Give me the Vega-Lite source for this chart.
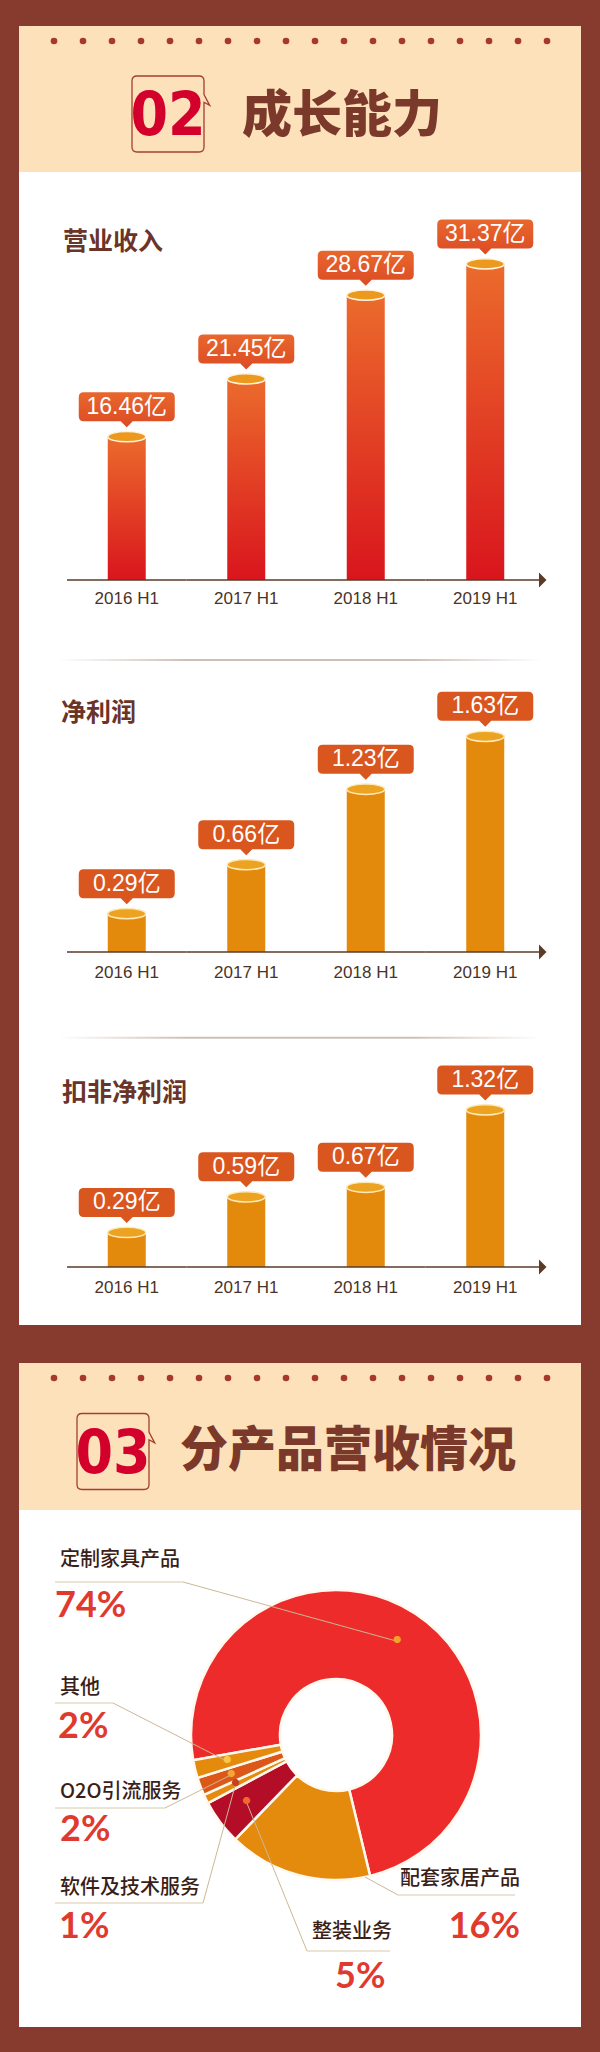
{
  "$schema": "https://vega.github.io/schema/vega-lite/v6.json",
  "background": "#873a2e",
  "padding": {"left": 19, "right": 19, "top": 26, "bottom": 25},
  "config": {"view": {"stroke": null}, "concat": {"spacing": 0}, "font": "Noto Sans CJK SC"},
  "datasets": {
    "dots": [{"i": 1}, {"i": 2}, {"i": 3}, {"i": 4}, {"i": 5}, {"i": 6}, {"i": 7}, {"i": 8}, {"i": 9}, {"i": 10}, {"i": 11}, {"i": 12}, {"i": 13}, {"i": 14}, {"i": 15}, {"i": 16}, {"i": 17}, {"i": 18}],
    "head1": [{"part": "num", "label": "02"}, {"part": "title", "label": "成长能力"}],
    "head2": [{"part": "num", "label": "03"}, {"part": "title", "label": "分产品营收情况"}],
    "revenue": [
      {"period": "2016 H1", "value": 16.46, "label": "16.46亿"},
      {"period": "2017 H1", "value": 21.45, "label": "21.45亿"},
      {"period": "2018 H1", "value": 28.67, "label": "28.67亿"},
      {"period": "2019 H1", "value": 31.37, "label": "31.37亿"}
    ],
    "netprofit": [
      {"period": "2016 H1", "value": 0.29, "label": "0.29亿"},
      {"period": "2017 H1", "value": 0.66, "label": "0.66亿"},
      {"period": "2018 H1", "value": 1.23, "label": "1.23亿"},
      {"period": "2019 H1", "value": 1.63, "label": "1.63亿"}
    ],
    "adjprofit": [
      {"period": "2016 H1", "value": 0.29, "label": "0.29亿"},
      {"period": "2017 H1", "value": 0.59, "label": "0.59亿"},
      {"period": "2018 H1", "value": 0.67, "label": "0.67亿"},
      {"period": "2019 H1", "value": 1.32, "label": "1.32亿"}
    ],
    "products": [
      {"idx": 1, "category": "定制家具产品", "share": 0.74},
      {"idx": 2, "category": "配套家居产品", "share": 0.16},
      {"idx": 3, "category": "整装业务", "share": 0.05},
      {"idx": 4, "category": "软件及技术服务", "share": 0.01},
      {"idx": 5, "category": "O2O引流服务", "share": 0.02},
      {"idx": 6, "category": "其他", "share": 0.02}
    ]
  },
  "spacing": 38,
  "vconcat": [
    {
      "spacing": 0,
      "vconcat": [
        {
          "width": 562, "height": 30,
          "view": {"fill": "#fde1ba", "stroke": null},
          "data": {"name": "dots"},
          "mark": {"type": "circle", "size": 44, "color": "#a5392a", "opacity": 1},
          "encoding": {"x": {"field": "i", "type": "quantitative", "scale": {"domain": [1, 18], "range": [35, 528], "nice": false, "zero": false}, "axis": null}}
        },
        {
          "width": 562, "height": 116,
          "view": {"fill": "#fde1ba", "stroke": null},
          "data": {"name": "head1"},
          "layer": [
            {
              "transform": [{"filter": "datum.part === 'num'"}],
              "mark": {"type": "point", "shape": "M-0.795,-0.974 L0.795,-0.974 Q0.923,-0.974 0.923,-0.846 L0.923,-0.5 L1.07,-0.22 L0.923,-0.3 L0.923,0.846 Q0.923,0.974 0.795,0.974 L-0.795,0.974 Q-0.923,0.974 -0.923,0.846 L-0.923,-0.846 Q-0.923,-0.974 -0.795,-0.974 Z", "size": 6084, "filled": false, "stroke": "#a3402e", "strokeWidth": 1.3, "opacity": 1},
              "encoding": {"x": {"field": "part", "type": "nominal", "scale": {"type": "point", "domain": ["num", "title"], "range": [149, 223], "padding": 0}, "axis": null}}
            },
            {
              "transform": [{"filter": "datum.part === 'num'"}],
              "mark": {"type": "text", "fontSize": 60, "fontWeight": "bold", "font": "Liberation Sans Narrow, DejaVu Sans Condensed, Liberation Sans", "color": "#d2002a", "baseline": "middle", "dy": 3},
              "encoding": {"x": {"field": "part", "type": "nominal", "axis": null}, "text": {"field": "label"}}
            },
            {
              "transform": [{"filter": "datum.part === 'title'"}],
              "mark": {"type": "text", "align": "left", "baseline": "middle", "fontSize": 50, "fontWeight": 900, "font": "Noto Sans CJK SC", "color": "#7a392a", "dy": 3},
              "encoding": {"x": {"field": "part", "type": "nominal", "axis": null}, "text": {"field": "label"}}
            }
          ]
        },
        {
          "width": 562, "height": 486,
          "view": {"fill": "#ffffff", "stroke": null},
          "title": {"text": "营业收入", "anchor": "start", "frame": "group", "orient": "top", "offset": -95, "dx": 44, "baseline": "middle", "fontSize": 25, "fontWeight": "bold", "color": "#6a3428", "font": "Noto Sans CJK SC"},
          "data": {"name": "revenue"},
          "layer": [
            {
              "mark": {"type": "bar", "width": 38, "fill": {"gradient": "linear", "x1": 0, "y1": 0, "x2": 0, "y2": 1, "stops": [{"offset": 0, "color": "#eb6b2c"}, {"offset": 1, "color": "#d9151d"}]}},
              "encoding": {
                "x": {"field": "period", "type": "nominal", "scale": {"type": "band", "range": [48, 526], "paddingInner": 0, "paddingOuter": 0}, "axis": null},
                "y": {"field": "value", "type": "quantitative", "scale": {"domain": [4.1, 39.3], "range": [408, 0], "nice": false, "zero": false}, "axis": null},
                "y2": {"datum": 4.1}
              }
            },
            {
              "mark": {"type": "bar", "width": {"band": 1}, "fill": "#5b3a27"},
              "encoding": {"x": {"field": "period", "type": "nominal", "axis": null}, "y": {"datum": 4.165, "axis": null}, "y2": {"datum": 4.035}}
            },
            {
              "mark": {"type": "text", "dy": 19, "baseline": "middle", "fontSize": 17, "font": "Liberation Sans", "color": "#4b3327"},
              "encoding": {"x": {"field": "period", "type": "nominal", "axis": null}, "y": {"datum": 4.1, "axis": null}, "text": {"field": "period"}}
            },
            {
              "mark": {"type": "point", "shape": "M-1,0 A1,0.27 0 1,1 1,0 A1,0.27 0 1,1 -1,0 Z", "size": 1444, "filled": true, "fill": "#ec9a1f", "stroke": "#fff3dc", "strokeWidth": 1.5, "opacity": 1},
              "encoding": {"x": {"field": "period", "type": "nominal", "axis": null}, "y": {"field": "value", "type": "quantitative", "axis": null}}
            },
            {
              "mark": {"type": "point", "shape": "M-0.896,-0.927 L0.896,-0.927 Q1,-0.927 1,-0.823 L1,-0.427 Q1,-0.323 0.896,-0.323 L0.125,-0.323 L0,-0.198 L-0.125,-0.323 L-0.896,-0.323 Q-1,-0.323 -1,-0.427 L-1,-0.823 Q-1,-0.927 -0.896,-0.927 Z", "size": 9216, "filled": true, "fill": {"gradient": "linear", "x1": 0, "y1": 0, "x2": 0, "y2": 1, "stops": [{"offset": 0, "color": "#e8672d"}, {"offset": 1, "color": "#dc4b24"}]}, "strokeWidth": 0, "opacity": 1},
              "encoding": {"x": {"field": "period", "type": "nominal", "axis": null}, "y": {"field": "value", "type": "quantitative", "axis": null}}
            },
            {
              "mark": {"type": "text", "dy": -30, "fontSize": 23, "color": "#ffffff", "font": "Liberation Sans, Noto Sans CJK SC", "baseline": "middle"},
              "encoding": {"x": {"field": "period", "type": "nominal", "axis": null}, "y": {"field": "value", "type": "quantitative", "axis": null}, "text": {"field": "label"}}
            },
            {
              "data": {"values": [{}]},
              "mark": {"type": "point", "shape": "M-0.8,-1 L0.2,0 L-0.8,1 Z", "size": 225, "filled": true, "color": "#5b3a27", "opacity": 1},
              "encoding": {"x": {"datum": "2019 H1", "bandPosition": 1, "axis": null}, "y": {"datum": 4.1, "axis": null}}
            }
          ]
        },
        {
          "width": 562, "height": 378,
          "view": {"fill": "#ffffff", "stroke": null},
          "title": {"text": "净利润", "anchor": "start", "frame": "group", "orient": "top", "offset": -80, "dx": 42, "baseline": "middle", "fontSize": 25, "fontWeight": "bold", "color": "#6a3428", "font": "Noto Sans CJK SC"},
          "data": {"name": "netprofit"},
          "layer": [
            {
              "mark": {"type": "bar", "width": 38, "fill": "#e38a0d"},
              "encoding": {
                "x": {"field": "period", "type": "nominal", "scale": {"type": "band", "range": [48, 526], "paddingInner": 0, "paddingOuter": 0}, "axis": null},
                "y": {"field": "value", "type": "quantitative", "scale": {"domain": [0, 2.222], "range": [294, 0], "nice": false, "zero": false}, "axis": null},
                "y2": {"datum": 0}
              }
            },
            {
              "mark": {"type": "bar", "width": {"band": 1}, "fill": "#5b3a27"},
              "encoding": {"x": {"field": "period", "type": "nominal", "axis": null}, "y": {"datum": 0.0057, "axis": null}, "y2": {"datum": -0.0057}}
            },
            {
              "mark": {"type": "text", "dy": 21, "baseline": "middle", "fontSize": 17, "font": "Liberation Sans", "color": "#4b3327"},
              "encoding": {"x": {"field": "period", "type": "nominal", "axis": null}, "y": {"datum": 0, "axis": null}, "text": {"field": "period"}}
            },
            {
              "data": {"values": [{}]},
              "mark": {"type": "rect", "fill": {"gradient": "linear", "x1": 0, "y1": 0, "x2": 1, "y2": 0, "stops": [{"offset": 0, "color": "#ffffff"}, {"offset": 0.07, "color": "#ffffff"}, {"offset": 0.3, "color": "#cdbfb6"}, {"offset": 0.7, "color": "#cdbfb6"}, {"offset": 0.93, "color": "#ffffff"}, {"offset": 1, "color": "#ffffff"}]}},
              "encoding": {"y": {"datum": 2.215, "axis": null}, "y2": {"datum": 2.2}}
            },
            {
              "mark": {"type": "point", "shape": "M-1,0 A1,0.27 0 1,1 1,0 A1,0.27 0 1,1 -1,0 Z", "size": 1444, "filled": true, "fill": "#eca322", "stroke": "#fde9b8", "strokeWidth": 1.5, "opacity": 1},
              "encoding": {"x": {"field": "period", "type": "nominal", "axis": null}, "y": {"field": "value", "type": "quantitative", "axis": null}}
            },
            {
              "mark": {"type": "point", "shape": "M-0.896,-0.927 L0.896,-0.927 Q1,-0.927 1,-0.823 L1,-0.427 Q1,-0.323 0.896,-0.323 L0.125,-0.323 L0,-0.198 L-0.125,-0.323 L-0.896,-0.323 Q-1,-0.323 -1,-0.427 L-1,-0.823 Q-1,-0.927 -0.896,-0.927 Z", "size": 9216, "filled": true, "fill": "#d9561f", "strokeWidth": 0, "opacity": 1},
              "encoding": {"x": {"field": "period", "type": "nominal", "axis": null}, "y": {"field": "value", "type": "quantitative", "axis": null}}
            },
            {
              "mark": {"type": "text", "dy": -30, "fontSize": 23, "color": "#ffffff", "font": "Liberation Sans, Noto Sans CJK SC", "baseline": "middle"},
              "encoding": {"x": {"field": "period", "type": "nominal", "axis": null}, "y": {"field": "value", "type": "quantitative", "axis": null}, "text": {"field": "label"}}
            },
            {
              "data": {"values": [{}]},
              "mark": {"type": "point", "shape": "M-0.8,-1 L0.2,0 L-0.8,1 Z", "size": 225, "filled": true, "color": "#5b3a27", "opacity": 1},
              "encoding": {"x": {"datum": "2019 H1", "bandPosition": 1, "axis": null}, "y": {"datum": 0, "axis": null}}
            }
          ]
        },
        {
          "width": 562, "height": 289,
          "view": {"fill": "#ffffff", "stroke": null},
          "title": {"text": "扣非净利润", "anchor": "start", "frame": "group", "orient": "top", "offset": -82, "dx": 43, "baseline": "middle", "fontSize": 25, "fontWeight": "bold", "color": "#6a3428", "font": "Noto Sans CJK SC"},
          "data": {"name": "adjprofit"},
          "layer": [
            {
              "mark": {"type": "bar", "width": 38, "fill": "#e38a0d"},
              "encoding": {
                "x": {"field": "period", "type": "nominal", "scale": {"type": "band", "range": [48, 526], "paddingInner": 0, "paddingOuter": 0}, "axis": null},
                "y": {"field": "value", "type": "quantitative", "scale": {"domain": [0, 1.941], "range": [231, 0], "nice": false, "zero": false}, "axis": null},
                "y2": {"datum": 0}
              }
            },
            {
              "mark": {"type": "bar", "width": {"band": 1}, "fill": "#5b3a27"},
              "encoding": {"x": {"field": "period", "type": "nominal", "axis": null}, "y": {"datum": 0.0063, "axis": null}, "y2": {"datum": -0.0063}}
            },
            {
              "mark": {"type": "text", "dy": 21, "baseline": "middle", "fontSize": 17, "font": "Liberation Sans", "color": "#4b3327"},
              "encoding": {"x": {"field": "period", "type": "nominal", "axis": null}, "y": {"datum": 0, "axis": null}, "text": {"field": "period"}}
            },
            {
              "data": {"values": [{}]},
              "mark": {"type": "rect", "fill": {"gradient": "linear", "x1": 0, "y1": 0, "x2": 1, "y2": 0, "stops": [{"offset": 0, "color": "#ffffff"}, {"offset": 0.07, "color": "#ffffff"}, {"offset": 0.3, "color": "#cdbfb6"}, {"offset": 0.7, "color": "#cdbfb6"}, {"offset": 0.93, "color": "#ffffff"}, {"offset": 1, "color": "#ffffff"}]}},
              "encoding": {"y": {"datum": 1.934, "axis": null}, "y2": {"datum": 1.918}}
            },
            {
              "mark": {"type": "point", "shape": "M-1,0 A1,0.27 0 1,1 1,0 A1,0.27 0 1,1 -1,0 Z", "size": 1444, "filled": true, "fill": "#eca322", "stroke": "#fde9b8", "strokeWidth": 1.5, "opacity": 1},
              "encoding": {"x": {"field": "period", "type": "nominal", "axis": null}, "y": {"field": "value", "type": "quantitative", "axis": null}}
            },
            {
              "mark": {"type": "point", "shape": "M-0.896,-0.927 L0.896,-0.927 Q1,-0.927 1,-0.823 L1,-0.427 Q1,-0.323 0.896,-0.323 L0.125,-0.323 L0,-0.198 L-0.125,-0.323 L-0.896,-0.323 Q-1,-0.323 -1,-0.427 L-1,-0.823 Q-1,-0.927 -0.896,-0.927 Z", "size": 9216, "filled": true, "fill": "#d9561f", "strokeWidth": 0, "opacity": 1},
              "encoding": {"x": {"field": "period", "type": "nominal", "axis": null}, "y": {"field": "value", "type": "quantitative", "axis": null}}
            },
            {
              "mark": {"type": "text", "dy": -30, "fontSize": 23, "color": "#ffffff", "font": "Liberation Sans, Noto Sans CJK SC", "baseline": "middle"},
              "encoding": {"x": {"field": "period", "type": "nominal", "axis": null}, "y": {"field": "value", "type": "quantitative", "axis": null}, "text": {"field": "label"}}
            },
            {
              "data": {"values": [{}]},
              "mark": {"type": "point", "shape": "M-0.8,-1 L0.2,0 L-0.8,1 Z", "size": 225, "filled": true, "color": "#5b3a27", "opacity": 1},
              "encoding": {"x": {"datum": "2019 H1", "bandPosition": 1, "axis": null}, "y": {"datum": 0, "axis": null}}
            }
          ]
        }
      ]
    },
    {
      "spacing": 0,
      "vconcat": [
        {
          "width": 562, "height": 30,
          "view": {"fill": "#fde1ba", "stroke": null},
          "data": {"name": "dots"},
          "mark": {"type": "circle", "size": 44, "color": "#a5392a", "opacity": 1},
          "encoding": {"x": {"field": "i", "type": "quantitative", "scale": {"domain": [1, 18], "range": [35, 528], "nice": false, "zero": false}, "axis": null}}
        },
        {
          "width": 562, "height": 117,
          "view": {"fill": "#fde1ba", "stroke": null},
          "data": {"name": "head2"},
          "layer": [
            {
              "transform": [{"filter": "datum.part === 'num'"}],
              "mark": {"type": "point", "shape": "M-0.795,-0.974 L0.795,-0.974 Q0.923,-0.974 0.923,-0.846 L0.923,-0.5 L1.07,-0.22 L0.923,-0.3 L0.923,0.846 Q0.923,0.974 0.795,0.974 L-0.795,0.974 Q-0.923,0.974 -0.923,0.846 L-0.923,-0.846 Q-0.923,-0.974 -0.795,-0.974 Z", "size": 6084, "filled": false, "stroke": "#a3402e", "strokeWidth": 1.3, "opacity": 1},
              "encoding": {"x": {"field": "part", "type": "nominal", "scale": {"type": "point", "domain": ["num", "title"], "range": [94, 161], "padding": 0}, "axis": null}}
            },
            {
              "transform": [{"filter": "datum.part === 'num'"}],
              "mark": {"type": "text", "fontSize": 60, "fontWeight": "bold", "font": "Liberation Sans Narrow, DejaVu Sans Condensed, Liberation Sans", "color": "#d2002a", "baseline": "middle", "dy": 3},
              "encoding": {"x": {"field": "part", "type": "nominal", "axis": null}, "text": {"field": "label"}}
            },
            {
              "transform": [{"filter": "datum.part === 'title'"}],
              "mark": {"type": "text", "align": "left", "baseline": "middle", "fontSize": 48, "fontWeight": 900, "font": "Noto Sans CJK SC", "color": "#7a392a", "dy": 0},
              "encoding": {"x": {"field": "part", "type": "nominal", "axis": null}, "text": {"field": "label"}}
            }
          ]
        },
        {
          "width": 562, "height": 517,
          "view": {"fill": "#ffffff", "stroke": null},
          "data": {"name": "products"},
          "layer": [
            {
              "mark": {"type": "arc", "innerRadius": 56, "outerRadius": 145, "stroke": "#fff8ee", "strokeWidth": 2.5},
              "encoding": {
                "x": {"datum": 0, "type": "quantitative", "scale": {"domain": [-317, 245], "nice": false, "zero": false}, "axis": null},
                "y": {"datum": 0, "type": "quantitative", "scale": {"domain": [-292, 225], "nice": false, "zero": false}, "axis": null},
                "theta": {"field": "share", "type": "quantitative", "stack": true, "scale": {"range": [-1.7453, 4.5379]}},
                "order": {"field": "idx", "type": "quantitative"},
                "color": {"field": "category", "type": "nominal", "scale": {"domain": ["定制家具产品", "配套家居产品", "整装业务", "软件及技术服务", "O2O引流服务", "其他"], "range": ["#ee2b2b", "#e48a0c", "#b30d28", "#e48a0c", "#dc5818", "#e48a0c"]}, "legend": null}
              }
            },
            {"data": {"values": [{}]}, "mark": {"type": "rule", "color": "#cbb897", "strokeWidth": 1}, "encoding": {"x": {"datum": -153, "type": "quantitative"}, "y": {"datum": 153, "type": "quantitative"}, "x2": {"datum": 61.3}, "y2": {"datum": 93.7}}},
            {"data": {"values": [{}]}, "mark": {"type": "rule", "color": "#cbb897", "strokeWidth": 1}, "encoding": {"x": {"datum": -223, "type": "quantitative"}, "y": {"datum": 32, "type": "quantitative"}, "x2": {"datum": -108.9}, "y2": {"datum": -26.3}}},
            {"data": {"values": [{}]}, "mark": {"type": "rule", "color": "#cbb897", "strokeWidth": 1}, "encoding": {"x": {"datum": -171, "type": "quantitative"}, "y": {"datum": -73, "type": "quantitative"}, "x2": {"datum": -104.7}, "y2": {"datum": -39.8}}},
            {"data": {"values": [{}]}, "mark": {"type": "rule", "color": "#cbb897", "strokeWidth": 1}, "encoding": {"x": {"datum": -133, "type": "quantitative"}, "y": {"datum": -168, "type": "quantitative"}, "x2": {"datum": -100.5}, "y2": {"datum": -49.4}}},
            {"data": {"values": [{}]}, "mark": {"type": "rule", "color": "#cbb897", "strokeWidth": 1}, "encoding": {"x": {"datum": 62, "type": "quantitative"}, "y": {"datum": -160, "type": "quantitative"}, "x2": {"datum": 29}, "y2": {"datum": -142}}},
            {"data": {"values": [{}]}, "mark": {"type": "rule", "color": "#cbb897", "strokeWidth": 1}, "encoding": {"x": {"datum": -29, "type": "quantitative"}, "y": {"datum": -216, "type": "quantitative"}, "x2": {"datum": -89.4}, "y2": {"datum": -67.4}}},
            {"data": {"values": [{}]}, "mark": {"type": "rule", "color": "#d8c9aa", "strokeWidth": 1}, "encoding": {"x": {"datum": -281, "type": "quantitative"}, "x2": {"datum": -153}, "y": {"datum": 153, "type": "quantitative"}}},
            {"data": {"values": [{}]}, "mark": {"type": "rule", "color": "#d8c9aa", "strokeWidth": 1}, "encoding": {"x": {"datum": -281, "type": "quantitative"}, "x2": {"datum": -223}, "y": {"datum": 32, "type": "quantitative"}}},
            {"data": {"values": [{}]}, "mark": {"type": "rule", "color": "#d8c9aa", "strokeWidth": 1}, "encoding": {"x": {"datum": -281, "type": "quantitative"}, "x2": {"datum": -171}, "y": {"datum": -73, "type": "quantitative"}}},
            {"data": {"values": [{}]}, "mark": {"type": "rule", "color": "#d8c9aa", "strokeWidth": 1}, "encoding": {"x": {"datum": -281, "type": "quantitative"}, "x2": {"datum": -133}, "y": {"datum": -168, "type": "quantitative"}}},
            {"data": {"values": [{}]}, "mark": {"type": "rule", "color": "#d8c9aa", "strokeWidth": 1}, "encoding": {"x": {"datum": 62, "type": "quantitative"}, "x2": {"datum": 179}, "y": {"datum": -160, "type": "quantitative"}}},
            {"data": {"values": [{}]}, "mark": {"type": "rule", "color": "#d8c9aa", "strokeWidth": 1}, "encoding": {"x": {"datum": -29, "type": "quantitative"}, "x2": {"datum": 54}, "y": {"datum": -216, "type": "quantitative"}}},
            {
              "mark": {"type": "text", "text": "●", "radius": 112, "fontSize": 8, "baseline": "middle"},
              "encoding": {
                "x": {"datum": 0, "type": "quantitative"},
                "y": {"datum": 0, "type": "quantitative"},
                "theta": {"field": "share", "type": "quantitative", "stack": true},
                "order": {"field": "idx", "type": "quantitative"},
                "fill": {"field": "category", "type": "nominal", "scale": {"domain": ["定制家具产品", "配套家居产品", "整装业务", "软件及技术服务", "O2O引流服务", "其他"], "range": ["#f6a02c", "#e48a0c", "#ee6a2c", "#c8401e", "#f3a43a", "#f8c64e"]}, "legend": null},
                "opacity": {"condition": {"test": "datum.category === '配套家居产品'", "value": 0}, "value": 1}
              }
            },
            {"transform": [{"filter": "datum.category === '定制家具产品'"}], "mark": {"type": "text", "align": "left", "baseline": "middle", "fontSize": 20, "fontWeight": 500, "color": "#3a1e18", "font": "Noto Sans CJK SC"}, "encoding": {"text": {"field": "category"}, "x": {"datum": -276, "type": "quantitative"}, "y": {"datum": 175, "type": "quantitative"}}},
            {"transform": [{"filter": "datum.category === '其他'"}], "mark": {"type": "text", "align": "left", "baseline": "middle", "fontSize": 20, "fontWeight": 500, "color": "#3a1e18", "font": "Noto Sans CJK SC"}, "encoding": {"text": {"field": "category"}, "x": {"datum": -276, "type": "quantitative"}, "y": {"datum": 47, "type": "quantitative"}}},
            {"transform": [{"filter": "datum.category === 'O2O引流服务'"}], "mark": {"type": "text", "align": "left", "baseline": "middle", "fontSize": 20, "fontWeight": 500, "color": "#3a1e18", "font": "Noto Sans CJK SC"}, "encoding": {"text": {"field": "category"}, "x": {"datum": -276, "type": "quantitative"}, "y": {"datum": -57, "type": "quantitative"}}},
            {"transform": [{"filter": "datum.category === '软件及技术服务'"}], "mark": {"type": "text", "align": "left", "baseline": "middle", "fontSize": 20, "fontWeight": 500, "color": "#3a1e18", "font": "Noto Sans CJK SC"}, "encoding": {"text": {"field": "category"}, "x": {"datum": -276, "type": "quantitative"}, "y": {"datum": -153, "type": "quantitative"}}},
            {"transform": [{"filter": "datum.category === '配套家居产品'"}], "mark": {"type": "text", "align": "left", "baseline": "middle", "fontSize": 20, "fontWeight": 500, "color": "#3a1e18", "font": "Noto Sans CJK SC"}, "encoding": {"text": {"field": "category"}, "x": {"datum": 64, "type": "quantitative"}, "y": {"datum": -144, "type": "quantitative"}}},
            {"transform": [{"filter": "datum.category === '整装业务'"}], "mark": {"type": "text", "align": "left", "baseline": "middle", "fontSize": 20, "fontWeight": 500, "color": "#3a1e18", "font": "Noto Sans CJK SC"}, "encoding": {"text": {"field": "category"}, "x": {"datum": -24, "type": "quantitative"}, "y": {"datum": -197, "type": "quantitative"}}},
            {"transform": [{"filter": "datum.category === '定制家具产品'"}], "mark": {"type": "text", "align": "left", "baseline": "middle", "fontSize": 36, "fontWeight": "bold", "color": "#e03a2f", "font": "Lato"}, "encoding": {"text": {"field": "share", "type": "quantitative", "format": ".0%"}, "x": {"datum": -281, "type": "quantitative"}, "y": {"datum": 129, "type": "quantitative"}}},
            {"transform": [{"filter": "datum.category === '其他'"}], "mark": {"type": "text", "align": "left", "baseline": "middle", "fontSize": 36, "fontWeight": "bold", "color": "#e03a2f", "font": "Lato"}, "encoding": {"text": {"field": "share", "type": "quantitative", "format": ".0%"}, "x": {"datum": -278, "type": "quantitative"}, "y": {"datum": 8, "type": "quantitative"}}},
            {"transform": [{"filter": "datum.category === 'O2O引流服务'"}], "mark": {"type": "text", "align": "left", "baseline": "middle", "fontSize": 36, "fontWeight": "bold", "color": "#e03a2f", "font": "Lato"}, "encoding": {"text": {"field": "share", "type": "quantitative", "format": ".0%"}, "x": {"datum": -276, "type": "quantitative"}, "y": {"datum": -95, "type": "quantitative"}}},
            {"transform": [{"filter": "datum.category === '软件及技术服务'"}], "mark": {"type": "text", "align": "left", "baseline": "middle", "fontSize": 36, "fontWeight": "bold", "color": "#e03a2f", "font": "Lato"}, "encoding": {"text": {"field": "share", "type": "quantitative", "format": ".0%"}, "x": {"datum": -277, "type": "quantitative"}, "y": {"datum": -192, "type": "quantitative"}}},
            {"transform": [{"filter": "datum.category === '配套家居产品'"}], "mark": {"type": "text", "align": "right", "baseline": "middle", "fontSize": 36, "fontWeight": "bold", "color": "#e03a2f", "font": "Lato"}, "encoding": {"text": {"field": "share", "type": "quantitative", "format": ".0%"}, "x": {"datum": 184, "type": "quantitative"}, "y": {"datum": -192, "type": "quantitative"}}},
            {"transform": [{"filter": "datum.category === '整装业务'"}], "mark": {"type": "text", "align": "left", "baseline": "middle", "fontSize": 36, "fontWeight": "bold", "color": "#e03a2f", "font": "Lato"}, "encoding": {"text": {"field": "share", "type": "quantitative", "format": ".0%"}, "x": {"datum": -1, "type": "quantitative"}, "y": {"datum": -242, "type": "quantitative"}}}
          ]
        }
      ]
    }
  ]
}
